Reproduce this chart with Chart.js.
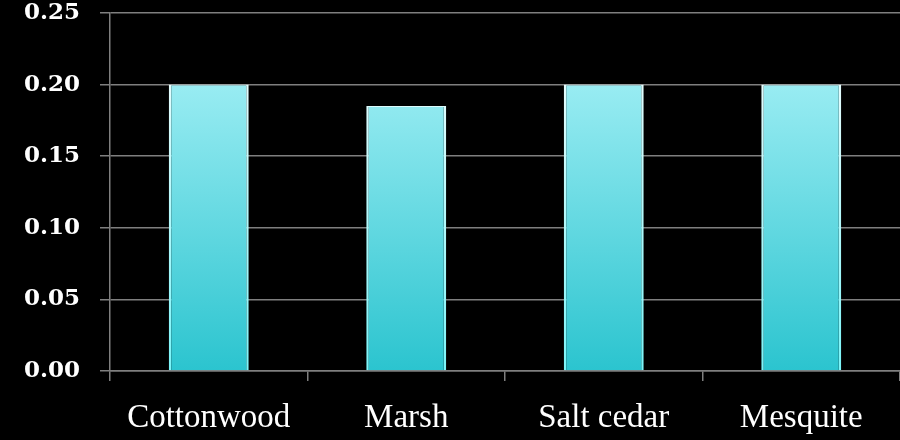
<!DOCTYPE html>
<html><head><meta charset="utf-8">
<script src="https://cdn.jsdelivr.net/npm/chart.js@4/dist/chart.umd.min.js"></script>
<style>html,body{margin:0;padding:0;background:#000;}#wrap{width:900px;height:440px;}</style>
</head><body><div id="wrap"><canvas id="c" width="900" height="440"></canvas></div>
<script>
const categories = ["Cottonwood", "Marsh", "Salt cedar", "Mesquite"];
const values = [0.20, 0.185, 0.20, 0.20];
const yTicks = [0, 0.05, 0.10, 0.15, 0.20, 0.25];

function grad(ctx, top, bottom) {
  const ca = ctx.chart.chartArea;
  if (!ca) return top;
  const g = ctx.chart.ctx.createLinearGradient(0, ca.top, 0, ca.bottom);
  g.addColorStop(0, top);
  g.addColorStop(1, bottom);
  return g;
}

new Chart(document.getElementById('c'), {
  type: 'bar',
  data: {
    labels: categories,
    datasets: [{
      data: values,
      backgroundColor: c => grad(c, '#b4f6fb', '#2bc4cf'),
      borderColor: c => grad(c, '#ffffff', '#7af4f8'),
      borderWidth: {left: 2.5, right: 2.5, top: 1, bottom: 0},
      borderSkipped: false,
      barPercentage: 0.405,
      categoryPercentage: 1.0
    }]
  },
  options: {
    responsive: false,
    animation: false,
    layout: {padding: {top: 13, right: 0, left: 0, bottom: 0}},
    plugins: {legend: {display: false}, tooltip: {enabled: false}},
    scales: {
      x: {
        afterFit: s => { s.height = 69; s.paddingLeft = 0; s.paddingRight = 0; },
        grid: {drawOnChartArea: false, color: '#7f7f7f', lineWidth: 1.5, tickLength: 10, offset: true},
        border: {color: '#7f7f7f', width: 1.5},
        ticks: {color: '#ffffff', font: {family: 'Liberation Serif', size: 33}, padding: 18}
      },
      y: {
        min: 0, max: 0.25,
        afterFit: s => { s.width = 110; s.paddingTop = 0; s.paddingBottom = 0; },
        afterBuildTicks: s => { s.ticks = yTicks.map(v => ({value: v})); },
        grid: {color: '#7f7f7f', lineWidth: 1.5, tickLength: 10},
        border: {color: '#7f7f7f', width: 1.5},
        ticks: {
          color: '#ffffff', padding: 20,
          font: {family: "'DejaVu Serif', serif", size: 23, weight: 'bold'},
          callback: v => v.toFixed(2)
        }
      }
    }
  },
  plugins: [{
    id: 'bg',
    beforeDraw: ch => { const x = ch.ctx; x.save(); x.fillStyle = '#000'; x.fillRect(0, 0, ch.width, ch.height); x.restore(); }
  }]
});
</script>
</body></html>
